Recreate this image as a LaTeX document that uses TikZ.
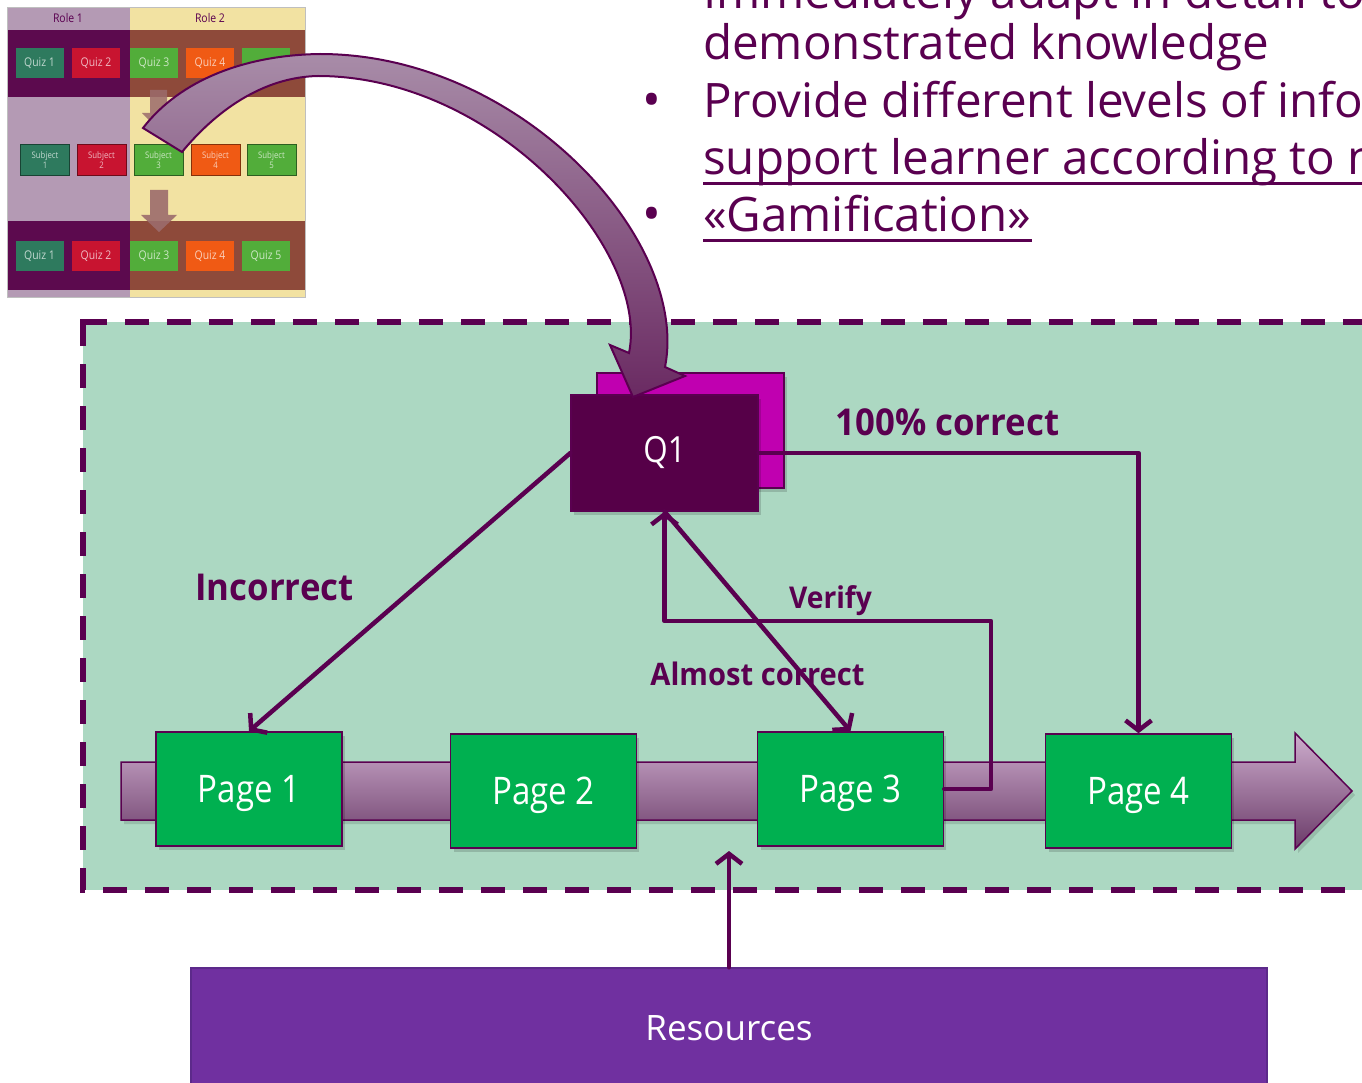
\documentclass[tikz,border=0pt]{standalone}
\usepackage{fontspec}
\setmainfont{Open Sans}
\newfontfamily\nf{Open Sans}[FakeStretch=0.87]
\newfontfamily\lf{Open Sans}[FakeStretch=0.94]
\usetikzlibrary{arrows.meta}
\definecolor{dp}{HTML}{5A0050}
\definecolor{qone}{HTML}{560048}
\definecolor{mag}{HTML}{C000B0}
\definecolor{pg}{HTML}{00B050}
\definecolor{bgg}{HTML}{ACD8C2}
\definecolor{res}{HTML}{7030A0}
\definecolor{resb}{HTML}{5C2A8A}
\definecolor{tlA}{HTML}{CDADCD}
\definecolor{tlB}{HTML}{6A3A68}
\definecolor{caA}{HTML}{A88CA8}
\definecolor{caB}{HTML}{6A2A62}
\definecolor{rA}{HTML}{B49AB4}
\definecolor{rB}{HTML}{F2E2A2}
\definecolor{bA}{HTML}{5C0A4E}
\definecolor{bB}{HTML}{8E4A3A}
\definecolor{qa}{HTML}{2E7A5E}
\definecolor{qb}{HTML}{C81430}
\definecolor{qc}{HTML}{52AD3A}
\definecolor{qd}{HTML}{F05A14}
\definecolor{da}{HTML}{9C6C6C}
\tikzset{
  pagebox/.style={draw=dp, line width=1.5pt, fill=pg, minimum width=186pt, minimum height=114pt, inner sep=0pt, text=white, text depth=0pt, font=\nf\fontsize{38}{40}\selectfont},
  conn/.style={draw=dp, line width=4.5pt, line cap=round, line join=round},
  arr/.style={-{Straight Barb[length=10pt,width=26pt]}},
  lbl/.style={text=dp, inner sep=0pt, anchor=base, font=\lf\bfseries\fontsize{#1}{#1}\selectfont},
  quiz/.style={fill=#1, minimum width=48pt, minimum height=30pt, inner sep=0pt, text=white, text opacity=0.7, font=\nf\fontsize{12}{12}\selectfont},
  subj/.style={fill=#1, draw=black!45!#1, line width=0.8pt, minimum width=49pt, minimum height=31pt, inner sep=0pt, text=white, text opacity=0.7, align=center, font=\nf\fontsize{9}{9.5}\selectfont},
  toptext/.style={text=dp, inner sep=0pt, anchor=base west, font=\fontsize{47.5}{50}\selectfont},
  bul/.style={text=dp, inner sep=0pt, anchor=base, font=\fontsize{50}{50}\selectfont},
  sh/.style={fill=black, opacity=0.15},
  ul/.style={draw=dp, line width=3.5pt},
}
\begin{document}
\begin{tikzpicture}[x=1pt,y=-1pt]
\useasboundingbox[fill=white] (0,0) rectangle (1362,1083);

% dashed frame
\fill[bgg] (83,322) rectangle (1420,890);
\draw[dp, line width=6pt, dash pattern=on 24pt off 18pt] (83,322) -- (1420,322);
\draw[dp, line width=6pt, dash pattern=on 24pt off 18pt] (83,322) -- (83,890) -- (1420,890);
\fill[dp] (80,319) rectangle (86,325);

% timeline arrow
\fill[black, opacity=0.12] (124,766) -- (1298,766) -- (1298,737) -- (1355,795) -- (1298,853) -- (1298,824) -- (124,824) -- cycle;
\path[draw=dp, line width=1.5pt, top color=tlA, bottom color=tlB] (121,762) -- (1295,762) -- (1295,733) -- (1352,791) -- (1295,849) -- (1295,820) -- (121,820) -- cycle;

% page boxes
\fill[sh] (159,736) rectangle (345,850);
\fill[sh] (454,738) rectangle (639,852);
\fill[sh] (761,736) rectangle (946,850);
\fill[sh] (1049,738) rectangle (1234,852);
\node[pagebox] (p1) at (249,789) {Page 1};
\node[pagebox] (p2) at (543.5,791) {Page 2};
\node[pagebox] (p3) at (850.5,789) {Page 3};
\node[pagebox] (p4) at (1138.5,791) {Page 4};

% Q1 boxes
\fill[sh] (600,377) rectangle (787,492);
\node[draw=dp, line width=1.2pt, fill=mag, minimum width=187pt, minimum height=115pt, inner sep=0pt] (q1back) at (690.5,430.5) {};
\fill[sh] (574,399) rectangle (761,515);
\node[draw=dp, line width=1.2pt, fill=qone, minimum width=187pt, minimum height=116pt, inner sep=0pt, text=white, font=\nf\fontsize{36}{38}\selectfont] (q1) at (664.5,453) {Q1};

% connectors
\coordinate (v1) at (991,621);
\draw[conn, arr] (q1.west) -- (p1.north);
\draw[conn, arr] (q1.east) -| (p4.north);
\draw[conn, arr] (p3.east) -| (v1) -| (q1.south);
\draw[conn, arr] (q1.south) -- (p3.north);

% labels
\node[lbl=37] (inc) at (274.5,600) {Incorrect};
\node[lbl=37] (c100) at (947.5,435) {100\% correct};
\node[lbl=30] (ver) at (830.5,608) {Verify};
\node[lbl=31] (alm) at (757.5,685) {Almost correct};

% resources
\node[draw=resb, line width=1.5pt, fill=res, minimum width=1076pt, minimum height=120pt, inner sep=0pt, text=white, font=\fontsize{35}{38}\selectfont] (res) at (729,1028) {Resources};
\coordinate (resend) at (729,851);
\draw[conn, arr] (res.north) -- (resend);

% thumbnail
\fill[rA] (8,8) rectangle (130,297);
\fill[rB] (130,8) rectangle (305,297);
\fill[bA] (8,30) rectangle (130,97);
\fill[bB] (130,30) rectangle (305,97);
\fill[bA] (8,221) rectangle (130,290);
\fill[bB] (130,221) rectangle (305,290);
\draw[black!25, line width=1pt] (7.5,7.5) rectangle (305.5,297.5);
\node[text=dp, font=\nf\fontsize{12}{12}\selectfont] (r1) at (68,18) {Role 1};
\node[text=dp, font=\nf\fontsize{12}{12}\selectfont] (r2) at (210,18) {Role 2};
\node[quiz=qa] (tq1) at (39.5,63) {Quiz 1};
\node[quiz=qb] (tq2) at (96,63) {Quiz 2};
\node[quiz=qc] (tq3) at (154,63) {Quiz 3};
\node[quiz=qd] (tq4) at (210,63) {Quiz 4};
\node[quiz=qc] (tq5) at (266,63) {};
\node[quiz=qa] (bq1) at (39.5,256) {Quiz 1};
\node[quiz=qb] (bq2) at (96,256) {Quiz 2};
\node[quiz=qc] (bq3) at (154,256) {Quiz 3};
\node[quiz=qd] (bq4) at (210,256) {Quiz 4};
\node[quiz=qc] (bq5) at (266,256) {Quiz 5};
\node[subj=qa] (s1) at (45,160) {Subject\\1};
\node[subj=qb] (s2) at (101.5,160) {Subject\\2};
\node[subj=qc] (s3) at (158.5,160) {Subject\\3};
\node[subj=qd] (s4) at (215.5,160) {Subject\\4};
\node[subj=qc] (s5) at (271.5,160) {Subject\\5};
\fill[da, opacity=0.85] (150,90) -- (167,90) -- (167,113) -- (175,113) -- (158.5,130) -- (142,113) -- (150,113) -- cycle;
\fill[da, opacity=0.9] (150,190) -- (168,190) -- (168,215) -- (177,215) -- (159,232) -- (141,215) -- (150,215) -- cycle;

% curved arrow
\path[draw=dp, line width=2pt, line join=miter, top color=caA, bottom color=caB]
  (143,128) .. controls (180,80) and (245,55) .. (320,54)
  .. controls (520,54) and (690,240) .. (665,367)
  -- (685,376) -- (633,397) -- (610,345) -- (629,353)
  .. controls (650,250) and (495,76) .. (318,76)
  .. controls (262,77) and (215,112) .. (182,152) -- cycle;

% top text
\node[toptext] (t1) at (703,9) {Immediately adapt in detail to the};
\node[toptext] (t2) at (703,60) {demonstrated knowledge};
\node[bul] (b1) at (652,118) {•};
\node[toptext] (t3) at (703,118) {Provide different levels of information to};
\node[toptext] (t4) at (703,175) {support learner according to needs};
\node[bul] (b2) at (652,232) {•};
\node[toptext] (t5) at (703,232) {«Gamification»};
\draw[ul] ([yshift=-8.5pt]t4.base west) -- ([yshift=-8.5pt]t4.base east);
\draw[ul] ([yshift=-8.5pt]t5.base west) -- ([yshift=-8.5pt]t5.base east);
\end{tikzpicture}
\end{document}
